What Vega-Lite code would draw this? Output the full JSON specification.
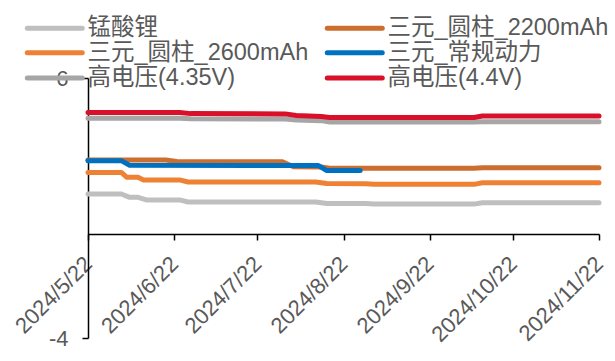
{
  "$schema": "https://vega.github.io/schema/vega-lite/v6.json",
  "width": 511,
  "height": 260,
  "autosize": "none",
  "padding": {"left": 88, "top": 78, "right": 16, "bottom": 23},
  "background": "white",
  "config": {
    "font": "Liberation Sans, Noto Sans CJK SC",
    "view": {"stroke": null}
  },
  "data": {
    "values": [
      {"date": "2024-05-22T00:00", "series": "锰酸锂", "value": 1.54},
      {"date": "2024-06-03T00:00", "series": "锰酸锂", "value": 1.54},
      {"date": "2024-06-06T00:00", "series": "锰酸锂", "value": 1.41},
      {"date": "2024-06-09T00:00", "series": "锰酸锂", "value": 1.41},
      {"date": "2024-06-12T00:00", "series": "锰酸锂", "value": 1.31},
      {"date": "2024-06-24T00:00", "series": "锰酸锂", "value": 1.31},
      {"date": "2024-06-27T00:00", "series": "锰酸锂", "value": 1.23},
      {"date": "2024-08-12T00:00", "series": "锰酸锂", "value": 1.23},
      {"date": "2024-08-16T00:00", "series": "锰酸锂", "value": 1.17},
      {"date": "2024-08-30T00:00", "series": "锰酸锂", "value": 1.17},
      {"date": "2024-09-02T00:00", "series": "锰酸锂", "value": 1.15},
      {"date": "2024-10-08T00:00", "series": "锰酸锂", "value": 1.15},
      {"date": "2024-10-11T00:00", "series": "锰酸锂", "value": 1.2},
      {"date": "2024-11-22T00:00", "series": "锰酸锂", "value": 1.2},

      {"date": "2024-05-22T00:00", "series": "三元_圆柱_2200mAh", "value": 2.85},
      {"date": "2024-06-19T00:00", "series": "三元_圆柱_2200mAh", "value": 2.85},
      {"date": "2024-06-23T00:00", "series": "三元_圆柱_2200mAh", "value": 2.79},
      {"date": "2024-07-31T00:00", "series": "三元_圆柱_2200mAh", "value": 2.78},
      {"date": "2024-08-04T00:00", "series": "三元_圆柱_2200mAh", "value": 2.59},
      {"date": "2024-08-14T00:00", "series": "三元_圆柱_2200mAh", "value": 2.58},
      {"date": "2024-08-17T00:00", "series": "三元_圆柱_2200mAh", "value": 2.53},
      {"date": "2024-10-08T00:00", "series": "三元_圆柱_2200mAh", "value": 2.53},
      {"date": "2024-10-11T00:00", "series": "三元_圆柱_2200mAh", "value": 2.55},
      {"date": "2024-11-22T00:00", "series": "三元_圆柱_2200mAh", "value": 2.55},

      {"date": "2024-05-22T00:00", "series": "三元_圆柱_2600mAh", "value": 2.37},
      {"date": "2024-06-03T00:00", "series": "三元_圆柱_2600mAh", "value": 2.37},
      {"date": "2024-06-05T00:00", "series": "三元_圆柱_2600mAh", "value": 2.18},
      {"date": "2024-06-09T00:00", "series": "三元_圆柱_2600mAh", "value": 2.18},
      {"date": "2024-06-11T00:00", "series": "三元_圆柱_2600mAh", "value": 2.08},
      {"date": "2024-06-24T00:00", "series": "三元_圆柱_2600mAh", "value": 2.08},
      {"date": "2024-06-27T00:00", "series": "三元_圆柱_2600mAh", "value": 2.0},
      {"date": "2024-08-12T00:00", "series": "三元_圆柱_2600mAh", "value": 2.0},
      {"date": "2024-08-16T00:00", "series": "三元_圆柱_2600mAh", "value": 1.94},
      {"date": "2024-08-30T00:00", "series": "三元_圆柱_2600mAh", "value": 1.93},
      {"date": "2024-09-02T00:00", "series": "三元_圆柱_2600mAh", "value": 1.91},
      {"date": "2024-10-08T00:00", "series": "三元_圆柱_2600mAh", "value": 1.91},
      {"date": "2024-10-11T00:00", "series": "三元_圆柱_2600mAh", "value": 1.97},
      {"date": "2024-11-22T00:00", "series": "三元_圆柱_2600mAh", "value": 1.97},

      {"date": "2024-05-22T00:00", "series": "三元_常规动力", "value": 2.82},
      {"date": "2024-06-03T00:00", "series": "三元_常规动力", "value": 2.82},
      {"date": "2024-06-06T00:00", "series": "三元_常规动力", "value": 2.64},
      {"date": "2024-08-13T00:00", "series": "三元_常规动力", "value": 2.63},
      {"date": "2024-08-16T00:00", "series": "三元_常规动力", "value": 2.44},
      {"date": "2024-08-28T00:00", "series": "三元_常规动力", "value": 2.44},

      {"date": "2024-05-22T00:00", "series": "高电压(4.35V)", "value": 4.45},
      {"date": "2024-06-24T00:00", "series": "高电压(4.35V)", "value": 4.45},
      {"date": "2024-06-28T00:00", "series": "高电压(4.35V)", "value": 4.43},
      {"date": "2024-08-01T00:00", "series": "高电压(4.35V)", "value": 4.42},
      {"date": "2024-08-05T00:00", "series": "高电压(4.35V)", "value": 4.38},
      {"date": "2024-08-14T00:00", "series": "高电压(4.35V)", "value": 4.36},
      {"date": "2024-08-17T00:00", "series": "高电压(4.35V)", "value": 4.31},
      {"date": "2024-10-08T00:00", "series": "高电压(4.35V)", "value": 4.31},
      {"date": "2024-10-11T00:00", "series": "高电压(4.35V)", "value": 4.32},
      {"date": "2024-11-22T00:00", "series": "高电压(4.35V)", "value": 4.32},

      {"date": "2024-05-22T00:00", "series": "高电压(4.4V)", "value": 4.67},
      {"date": "2024-06-24T00:00", "series": "高电压(4.4V)", "value": 4.67},
      {"date": "2024-06-28T00:00", "series": "高电压(4.4V)", "value": 4.63},
      {"date": "2024-08-01T00:00", "series": "高电压(4.4V)", "value": 4.62},
      {"date": "2024-08-05T00:00", "series": "高电压(4.4V)", "value": 4.56},
      {"date": "2024-08-14T00:00", "series": "高电压(4.4V)", "value": 4.52},
      {"date": "2024-08-17T00:00", "series": "高电压(4.4V)", "value": 4.48},
      {"date": "2024-10-08T00:00", "series": "高电压(4.4V)", "value": 4.48},
      {"date": "2024-10-11T00:00", "series": "高电压(4.4V)", "value": 4.54},
      {"date": "2024-11-22T00:00", "series": "高电压(4.4V)", "value": 4.54}
    ]
  },
  "mark": {
    "type": "line",
    "strokeWidth": 5,
    "strokeCap": "round",
    "strokeJoin": "round",
    "interpolate": "linear"
  },
  "encoding": {
    "x": {
      "field": "date",
      "type": "temporal",
      "scale": {
        "domain": [
          {"year": 2024, "month": 5, "date": 22},
          {"year": 2024, "month": 11, "date": 22}
        ]
      },
      "axis": {
        "title": null,
        "values": [
          {"year": 2024, "month": 5, "date": 22},
          {"year": 2024, "month": 6, "date": 22},
          {"year": 2024, "month": 7, "date": 22},
          {"year": 2024, "month": 8, "date": 22},
          {"year": 2024, "month": 9, "date": 22},
          {"year": 2024, "month": 10, "date": 22},
          {"year": 2024, "month": 11, "date": 22}
        ],
        "format": "%Y/%-m/%-d",
        "labelAngle": -45,
        "labelAlign": "right",
        "labelBaseline": "middle",
        "labelFontSize": 22,
        "labelColor": "#595959",
        "labelPadding": 20,
        "labelOverlap": false,
        "labelFlush": false,
        "labelBound": false,
        "tickSize": 6,
        "tickColor": "#000000",
        "tickWidth": 1.5,
        "domainColor": "#000000",
        "domainWidth": 1.5,
        "grid": false,
        "offset": -104
      }
    },
    "y": {
      "field": "value",
      "type": "quantitative",
      "scale": {"domain": [-4, 6], "nice": false, "zero": false},
      "axis": {
        "title": null,
        "values": [-4, 6],
        "labelExpr": "datum.value + ''",
        "labelFontSize": 22,
        "labelColor": "#595959",
        "labelPadding": 14,
        "tickSize": 6,
        "tickColor": "#000000",
        "tickWidth": 1.5,
        "domainColor": "#000000",
        "domainWidth": 1.5,
        "grid": false
      }
    },
    "color": {
      "field": "series",
      "type": "nominal",
      "scale": {
        "domain": ["锰酸锂", "三元_圆柱_2200mAh", "三元_圆柱_2600mAh", "三元_常规动力", "高电压(4.35V)", "高电压(4.4V)"],
        "range": ["#BFBFBF", "#CC6F2E", "#EE8134", "#0070C0", "#A6A6A6", "#D9102A"]
      },
      "legend": {
        "orient": "none",
        "direction": "horizontal",
        "legendX": -45,
        "legendY": -62,
        "columns": 2,
        "title": null,
        "padding": 0,
        "symbolType": "M-5,0H5",
        "symbolSize": 121,
        "symbolStrokeWidth": 5,
        "labelFontSize": 23.5,
        "labelColor": "#595959",
        "labelLimit": 400,
        "labelOffset": 21,
        "rowPadding": 0.1,
        "columnPadding": 8,
        "encode": {
          "symbols": {"update": {"strokeCap": {"value": "round"}}}
        }
      }
    }
  }
}
